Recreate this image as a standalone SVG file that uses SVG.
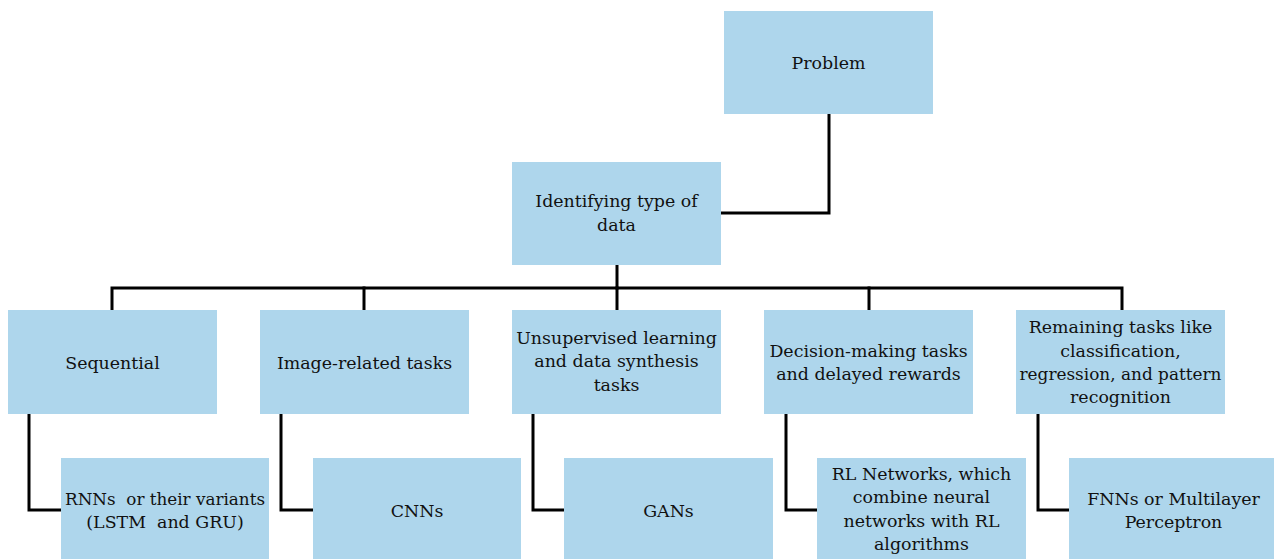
<svg xmlns="http://www.w3.org/2000/svg" width="1274" height="559" viewBox="0 0 1274 559">
<style>
.box{fill:#aed6ec;}
.t{font-family:"DejaVu Serif","Liberation Serif",serif;font-size:17.4px;fill:#111;text-anchor:middle;}
.pre{white-space:pre;}
.c{fill:none;stroke:#000;stroke-width:3;stroke-linejoin:miter;stroke-linecap:square;}
</style>
<rect width="1274" height="559" fill="#fff"/>
<g id="connectors">
<path class="c" d="M829 115 V213 H721"/>
<path class="c" d="M617 266 V288"/>
<path class="c" d="M112 310 V288 H1122 V310"/>
<path class="c" d="M364 288 V310"/>
<path class="c" d="M617 288 V310"/>
<path class="c" d="M869 288 V310"/>
<path class="c" d="M29 414 V510 H61"/>
<path class="c" d="M281 414 V510 H313"/>
<path class="c" d="M533 414 V510 H564"/>
<path class="c" d="M786 414 V510 H817"/>
<path class="c" d="M1038 414 V510 H1069"/>
</g>
<g id="problem"><rect class="box" x="724" y="11" width="209" height="103"/><text class="t" x="828.5" y="69">Problem</text></g>
<g id="identifying"><rect class="box" x="512" y="162" width="209" height="103"/><text class="t" x="616.5" y="207">Identifying type of</text><text class="t" x="616.5" y="231">data</text></g>
<g id="sequential"><rect class="box" x="8" y="310" width="209" height="104"/><text class="t" x="112.5" y="369">Sequential</text></g>
<g id="image"><rect class="box" x="260" y="310" width="209" height="104"/><text class="t" x="364.5" y="369">Image-related tasks</text></g>
<g id="unsupervised"><rect class="box" x="512" y="310" width="209" height="104"/><text class="t" x="616.5" y="344">Unsupervised learning</text><text class="t" x="616.5" y="367">and data synthesis</text><text class="t" x="616.5" y="391">tasks</text></g>
<g id="decision"><rect class="box" x="764" y="310" width="209" height="104"/><text class="t" x="868.5" y="357">Decision-making tasks</text><text class="t" x="868.5" y="380">and delayed rewards</text></g>
<g id="remaining"><rect class="box" x="1016" y="310" width="209" height="104"/><text class="t" x="1120.5" y="333">Remaining tasks like</text><text class="t" x="1120.5" y="357">classification,</text><text class="t" x="1120.5" y="380" textLength="202" lengthAdjust="spacingAndGlyphs">regression, and pattern</text><text class="t" x="1120.5" y="403">recognition</text></g>
<g id="rnns"><rect class="box" x="61" y="458" width="208" height="101"/><text class="t pre" x="165" y="505" textLength="200" lengthAdjust="spacingAndGlyphs">RNNs  or their variants</text><text class="t pre" x="165" y="528">(LSTM  and GRU)</text></g>
<g id="cnns"><rect class="box" x="313" y="458" width="208" height="101"/><text class="t" x="417" y="517">CNNs</text></g>
<g id="gans"><rect class="box" x="564" y="458" width="209" height="101"/><text class="t" x="668.5" y="517">GANs</text></g>
<g id="rl"><rect class="box" x="817" y="458" width="209" height="101"/><text class="t" x="921.5" y="480">RL Networks, which</text><text class="t" x="921.5" y="503">combine neural</text><text class="t" x="921.5" y="527">networks with RL</text><text class="t" x="921.5" y="550">algorithms</text></g>
<g id="fnns"><rect class="box" x="1069" y="458" width="209" height="101"/><text class="t" x="1173.5" y="505">FNNs or Multilayer</text><text class="t" x="1173.5" y="528">Perceptron</text></g>
</svg>
